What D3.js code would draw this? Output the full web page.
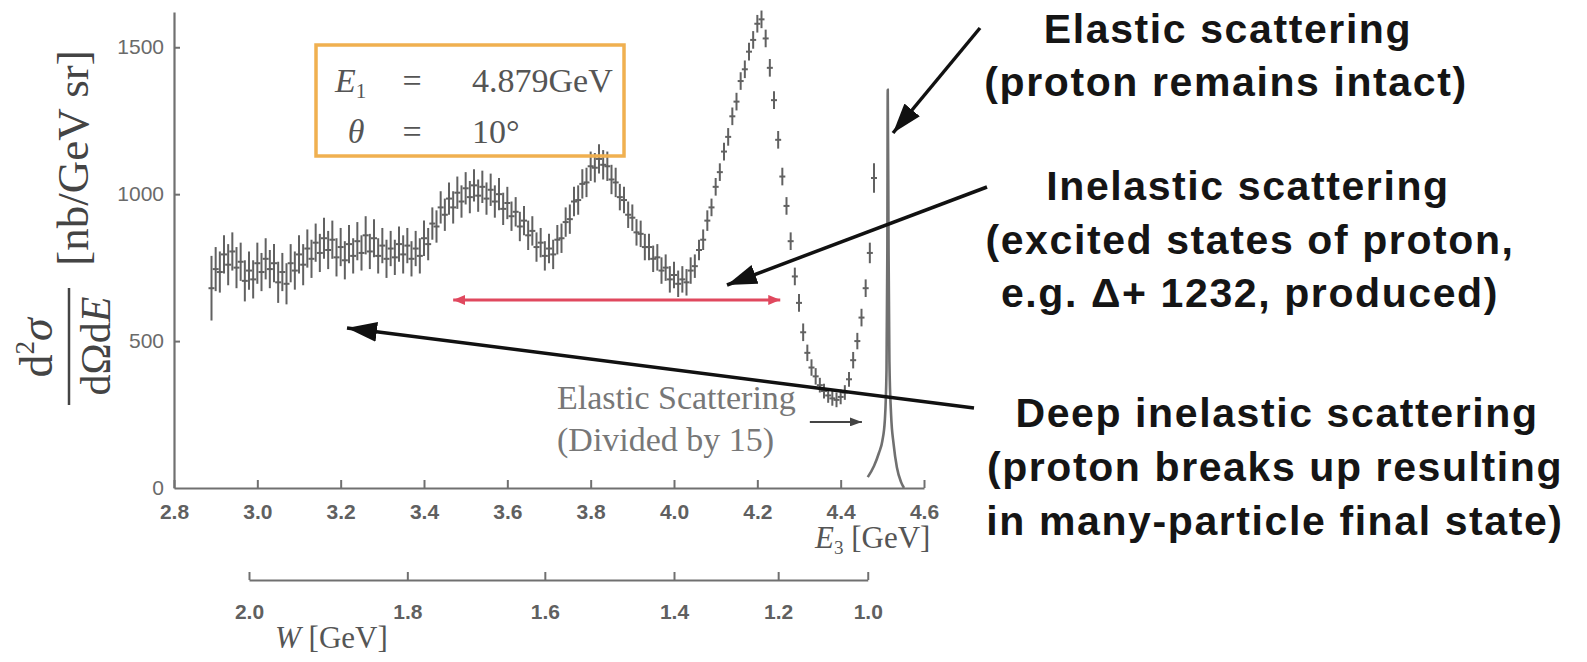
<!DOCTYPE html>
<html>
<head>
<meta charset="utf-8">
<script src="https://cdn.jsdelivr.net/npm/d3@7"></script>
<style>
  body { margin: 0; background: #fff; }
  svg { display: block; }
</style>
</head>
<body>
<div id="chart"></div>
<script>
// ---- data ----
// scattered electron energy E3 [GeV]
const energies = [
  2.89,2.90,2.91,2.92,2.93,2.94,2.95,2.96,2.97,2.98,
  2.99,3.00,3.01,3.02,3.03,3.04,3.05,3.06,3.07,3.08,
  3.09,3.10,3.11,3.12,3.13,3.14,3.15,3.16,3.17,3.18,
  3.19,3.20,3.21,3.22,3.23,3.24,3.25,3.26,3.27,3.28,
  3.29,3.30,3.31,3.32,3.33,3.34,3.35,3.36,3.37,3.38,
  3.39,3.40,3.41,3.42,3.43,3.44,3.45,3.46,3.47,3.48,
  3.49,3.50,3.51,3.52,3.53,3.54,3.55,3.56,3.57,3.58,
  3.59,3.60,3.61,3.62,3.63,3.64,3.65,3.66,3.67,3.68,
  3.69,3.70,3.71,3.72,3.73,3.74,3.75,3.76,3.77,3.78,
  3.79,3.80,3.81,3.82,3.83,3.84,3.85,3.86,3.87,3.88,
  3.89,3.90,3.91,3.92,3.93,3.94,3.95,3.96,3.97,3.98,
  3.99,4.00,4.01,4.02,4.03,4.04,4.05,4.06,4.07,4.08,
  4.09,4.10,4.11,4.12,4.13,4.14,4.15,4.16,4.17,4.18,
  4.19,4.20,4.21,4.22,4.23,4.24,4.25,4.26,4.27,4.28,
  4.29,4.30,4.31,4.32,4.33,4.34,4.35,4.36,4.37,4.38,
  4.39,4.40,4.41,4.42,4.43,4.44,4.45,4.46,4.47,4.48
];
// d2sigma/dOmega dE [nb/GeV sr]
const crossSection = [
  680,745,735,795,760,805,750,770,705,740,
  710,765,735,780,745,765,700,735,695,765,
  740,795,760,815,780,835,800,850,810,845,
  785,820,775,830,790,840,800,860,805,850,
  790,825,780,815,785,830,795,825,780,815,
  790,850,830,900,890,955,930,985,955,1005,
  975,1020,990,1030,995,1025,985,1015,975,1000,
  950,970,925,940,890,910,860,875,820,835,
  790,815,795,845,850,905,915,975,980,1035,
  1040,1095,1090,1120,1100,1095,1050,1040,990,980,
  930,920,870,865,820,820,780,785,740,750,
  710,725,695,710,700,740,755,810,845,910,
  955,1025,1075,1145,1195,1265,1315,1385,1425,1485,
  1525,1580,1595,1530,1430,1320,1185,1060,960,840,
  720,630,530,460,410,380,350,330,315,305,
  300,310,325,370,435,500,580,680,800,1055
];
const errors = [
  110,75,70,65,70,65,70,65,70,65,
  65,70,65,70,65,65,70,65,70,65,
  65,65,70,65,65,65,65,70,65,65,
  65,65,65,65,60,65,60,65,60,65,
  60,60,65,60,60,60,65,60,60,60,
  60,60,55,55,55,55,55,55,55,55,
  55,55,55,55,55,55,55,55,55,55,
  55,55,50,50,50,50,50,50,50,50,
  50,50,50,50,50,50,50,50,50,50,
  50,50,50,50,50,50,50,50,45,45,
  45,45,45,45,45,45,45,45,45,45,
  45,45,45,45,45,45,40,35,35,35,
  30,30,30,30,30,30,30,30,30,30,
  30,30,30,30,30,30,30,30,30,30,
  30,30,30,28,28,28,25,25,25,25,
  25,25,25,25,28,28,30,30,35,50
];
// elastic peak (divided by 15)
const elasticE   = [4.465,4.48,4.492,4.50,4.506,4.510,4.512,4.513,4.515,4.517,4.521,4.527,4.535,4.545,4.552];
const elasticVal = [37,75,120,160,230,400,800,1355,800,430,250,150,70,20,0];

const xTicks = [2.8,3.0,3.2,3.4,3.6,3.8,4.0,4.2,4.4,4.6];
const yTicks = [0,500,1000,1500];
const wTicks = [2.0,1.8,1.6,1.4,1.2,1.0];
const wTickE3 = [2.98,3.36,3.69,4.0,4.25,4.465];   // where each W tick sits on the E3 axis

const labelLines = [
  {text:"Elastic scattering", cx:1228, y:43},
  {text:"(proton remains intact)", cx:1226, y:96},
  {text:"Inelastic scattering", cx:1248, y:200},
  {text:"(excited states of proton,", cx:1250, y:254},
  {text:"e.g. \u0394+ 1232, produced)", cx:1250, y:307},
  {text:"Deep inelastic scattering", cx:1277, y:427},
  {text:"(proton breaks up resulting", cx:1275, y:481},
  {text:"in many-particle final state)", cx:1275, y:535}
];

// ---- layout ----
const W = 1587, H = 662;
const axisColor = "#707070";
const serif = "'Liberation Serif','Times New Roman',serif";
const sans = "'Liberation Sans',Arial,sans-serif";

const svg = d3.select("#chart").append("svg").attr("width", W).attr("height", H);

const defs = svg.append("defs");
const marker = (id, color, len, wid) => {
  defs.append("marker").attr("id", id)
    .attr("markerUnits", "userSpaceOnUse")
    .attr("viewBox", `0 0 ${len} ${wid}`)
    .attr("refX", len).attr("refY", wid / 2)
    .attr("markerWidth", len).attr("markerHeight", wid)
    .attr("orient", "auto-start-reverse")
    .append("path").attr("d", `M0,0L${len},${wid/2}L0,${wid}Z`).attr("fill", color);
};
marker("blackHead", "#111", 30, 20);
marker("redHead", "#e0485e", 12, 10);
marker("greyHead", "#444", 12, 9);

const x = d3.scaleLinear().domain([2.8, 4.6]).range([174, 924]);
const y = d3.scaleLinear().domain([0, 1620]).range([488, 12]);
const wScale = d3.scaleLinear().domain(wTicks).range(wTickE3.map(x));

const styleAxis = (g, size, weight, color) => {
  g.select(".domain").attr("stroke", axisColor).attr("stroke-width", 2.2);
  g.selectAll(".tick line").attr("stroke", axisColor).attr("stroke-width", 2);
  g.selectAll(".tick text").attr("font-family", sans).attr("font-size", size)
    .attr("font-weight", weight).attr("fill", color);
};

// x axis (E3)
svg.append("g").attr("transform", `translate(0,${y(0)})`)
  .call(d3.axisBottom(x).tickValues(xTicks).tickFormat(d3.format(".1f"))
    .tickSize(-8).tickSizeOuter(0).tickPadding(16))
  .call(g => styleAxis(g, 21, 700, "#606060"));

// y axis
svg.append("g").attr("transform", `translate(${x(2.8)},0)`)
  .call(d3.axisLeft(y).tickValues(yTicks).tickFormat(d3.format("d"))
    .tickSize(-6).tickSizeOuter(0).tickPadding(10))
  .call(g => styleAxis(g, 21, 400, "#6a6a6a"))
  .call(g => g.selectAll(".tick").filter(d => d === 0).select("line").remove());

// W axis
svg.append("g").attr("transform", "translate(0,580)")
  .call(d3.axisBottom(wScale).tickValues(wTicks).tickFormat(d3.format(".1f"))
    .tickSize(-8).tickSizeOuter(0).tickPadding(24))
  .call(g => styleAxis(g, 21, 700, "#606060"));

// axis titles
const e3Label = svg.append("text").attr("x", 815).attr("y", 548)
  .attr("font-family", serif).attr("font-size", 31).attr("fill", "#555");
e3Label.append("tspan").attr("font-style", "italic").text("E");
e3Label.append("tspan").attr("font-size", 19).attr("dy", 6).text("3");
e3Label.append("tspan").attr("dy", -6).text(" [GeV]");

const wLabel = svg.append("text").attr("x", 275).attr("y", 648)
  .attr("font-family", serif).attr("font-size", 31).attr("fill", "#555");
wLabel.append("tspan").attr("font-style", "italic").text("W");
wLabel.append("tspan").text(" [GeV]");

// y label: d2sigma / dOmega dE  [nb/GeV sr]
const yl = svg.append("g").attr("font-family", serif).attr("fill", "#444");
const num = yl.append("text").attr("transform", "translate(52,348) rotate(-90)")
  .attr("text-anchor", "middle").attr("font-size", 46);
num.append("tspan").text("d");
num.append("tspan").attr("font-size", 27).attr("dy", -18).text("2");
num.append("tspan").attr("dy", 18).attr("font-style", "italic").text("\u03c3");
yl.append("line").attr("x1", 69).attr("x2", 69).attr("y1", 288).attr("y2", 405)
  .attr("stroke", "#444").attr("stroke-width", 2.5);
const den = yl.append("text").attr("transform", "translate(110,346) rotate(-90)")
  .attr("text-anchor", "middle").attr("font-size", 42);
den.append("tspan").text("d\u03a9d");
den.append("tspan").attr("font-style", "italic").text("E");
yl.append("text").attr("transform", "translate(88,158) rotate(-90)")
  .attr("text-anchor", "middle").attr("font-size", 45).text("[nb/GeV sr]");

// elastic peak
svg.append("path")
  .datum(elasticE.map((e, i) => [e, elasticVal[i]]))
  .attr("d", d3.line().x(d => x(d[0])).y(d => y(d[1])).curve(d3.curveMonotoneX))
  .attr("fill", "none").attr("stroke", "#707070").attr("stroke-width", 2.6);

// data points with error bars
const pts = energies.map((e, i) => ({e, v: crossSection[i], err: errors[i]}));
const dg = svg.append("g").attr("stroke", "#3a3a3a").attr("stroke-width", 2).attr("opacity", 0.8);
dg.selectAll("line.err").data(pts).join("line").attr("class", "err")
  .attr("x1", d => x(d.e)).attr("x2", d => x(d.e))
  .attr("y1", d => y(d.v - d.err)).attr("y2", d => y(d.v + d.err));
dg.selectAll("line.pt").data(pts).join("line").attr("class", "pt")
  .attr("x1", d => x(d.e) - 3).attr("x2", d => x(d.e) + 3)
  .attr("y1", d => y(d.v)).attr("y2", d => y(d.v));

// beam box
svg.append("rect").attr("x", 316).attr("y", 45).attr("width", 308).attr("height", 111)
  .attr("fill", "none").attr("stroke", "#f0b050").attr("stroke-width", 3.5);
const bx = svg.append("g").attr("font-family", serif).attr("font-size", 34).attr("fill", "#555");
const e1 = bx.append("text").attr("x", 335).attr("y", 92);
e1.append("tspan").attr("font-style", "italic").text("E");
e1.append("tspan").attr("font-size", 21).attr("dy", 6).text("1");
bx.append("text").attr("x", 412).attr("y", 92).attr("text-anchor", "middle").text("=");
bx.append("text").attr("x", 472).attr("y", 92).text("4.879GeV");
bx.append("text").attr("x", 356).attr("y", 143).attr("text-anchor", "middle").attr("font-style", "italic").text("\u03b8");
bx.append("text").attr("x", 412).attr("y", 143).attr("text-anchor", "middle").text("=");
bx.append("text").attr("x", 472).attr("y", 143).text("10\u00b0");

// red double arrow (resonance region)
svg.append("line")
  .attr("x1", x(3.47)).attr("x2", x(4.255)).attr("y1", y(640)).attr("y2", y(640))
  .attr("stroke", "#e0485e").attr("stroke-width", 3)
  .attr("marker-start", "url(#redHead)").attr("marker-end", "url(#redHead)");

// elastic scattering note
const note = svg.append("g").attr("font-family", serif).attr("font-size", 34).attr("fill", "#777");
note.append("text").attr("x", 557).attr("y", 409).text("Elastic Scattering");
note.append("text").attr("x", 557).attr("y", 451).text("(Divided by 15)");
svg.append("line").attr("x1", x(4.326)).attr("x2", x(4.451)).attr("y1", y(225)).attr("y2", y(225))
  .attr("stroke", "#444").attr("stroke-width", 2).attr("marker-end", "url(#greyHead)");

// black pointer arrows
const arrows = [
  [980, 28, 893, 133],
  [987, 187, 727, 285],
  [974, 408, 347, 328]
];
svg.selectAll("line.arrow").data(arrows).join("line").attr("class", "arrow")
  .attr("x1", d => d[0]).attr("y1", d => d[1]).attr("x2", d => d[2]).attr("y2", d => d[3])
  .attr("stroke", "#111").attr("stroke-width", 3.5).attr("marker-end", "url(#blackHead)");

// right-hand labels
svg.append("g").attr("font-family", sans).attr("font-weight", 700).attr("font-size", 41)
  .attr("letter-spacing", 1.6).attr("fill", "#151515")
  .selectAll("text").data(labelLines).join("text")
  .attr("x", d => d.cx).attr("y", d => d.y).attr("text-anchor", "middle").text(d => d.text);
</script>
</body>
</html>
